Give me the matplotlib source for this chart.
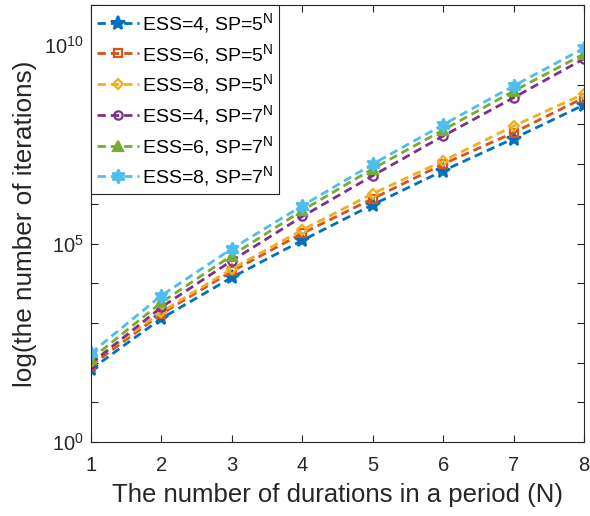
import numpy as np
import matplotlib
matplotlib.use("Agg")
from matplotlib import pyplot as plt
from matplotlib.ticker import FixedLocator, FixedFormatter, NullLocator

plt.rcParams["font.family"] = ["Liberation Sans", "DejaVu Sans"]
plt.rcParams["mathtext.default"] = "regular"

durations = [1, 2, 3, 4, 5, 6, 7, 8]

ess4_sp5 = [68, 1.3e3, 1.4e4, 1.2e5, 9.5e5, 6.8e6, 4.4e7, 3.1e8]
ess6_sp5 = [85, 1.7e3, 2.0e4, 1.8e5, 1.35e6, 1.0e7, 6.2e7, 4.7e8]
ess8_sp5 = [102, 1.9e3, 2.3e4, 2.2e5, 1.8e6, 1.2e7, 9.1e7, 5.9e8]
ess4_sp7 = [95, 2.5e3, 3.7e4, 4.8e5, 5.1e6, 5.1e7, 4.7e8, 4.5e9]
ess6_sp7 = [123, 3.3e3, 5.0e4, 6.8e5, 7.6e6, 7.2e7, 6.9e8, 5.9e9]
ess8_sp7 = [174, 4.9e3, 7.4e4, 8.9e5, 1.0e7, 9.8e7, 9.3e8, 8.3e9]

labels = ["ESS=4, SP=5$^N$", "ESS=6, SP=5$^N$", "ESS=8, SP=5$^N$",
          "ESS=4, SP=7$^N$", "ESS=6, SP=7$^N$", "ESS=8, SP=7$^N$"]
series = [ess4_sp5, ess6_sp5, ess8_sp5, ess4_sp7, ess6_sp7, ess8_sp7]
colors = ["#0072BD", "#D95319", "#EDB120", "#7E2F8E", "#77AC30", "#4DBEEE"]
# (marker, size, filled)
markers = [("*", 10, True), ("s", 5.5, False), ("D", 5, False),
           ("o", 6, False), ("^", 7.5, True), ((6, 1, 0), 10, True)]

fig = plt.figure(figsize=(5.9, 5.16), dpi=100)
ax = fig.add_axes([0.154, 0.143, 0.836, 0.847])

for vals, lab, c, (m, ms, filled) in zip(series, labels, colors, markers):
    ax.plot(durations, vals, linestyle=(0, (3.0, 1.8)), color=c, linewidth=2,
            marker=m, markersize=ms, markeredgewidth=1.6,
            markerfacecolor=c if filled else "none", markeredgecolor=c,
            label=lab)

ax.set_yscale("log")
ax.set_xlim(1, 8)
ax.set_ylim(1, 1e11)
ax.set_xticks(durations)
ax.yaxis.set_major_locator(FixedLocator([10.0 ** k for k in range(12)]))
ax.yaxis.set_major_formatter(FixedFormatter(
    ["$10^{%d}$" % k if k % 5 == 0 else "" for k in range(12)]))
ax.yaxis.set_minor_locator(NullLocator())
ax.tick_params(axis="x", labelsize=14.5, pad=10)
ax.tick_params(axis="y", labelsize=14.5, pad=5)
ax.tick_params(direction="in", top=True, right=True,
               length=5, width=0.8, color="#262626", labelcolor="#262626")
for sp in ax.spines.values():
    sp.set_linewidth(0.8)
    sp.set_color("#262626")

ax.set_xlabel("The number of durations in a period (N)", fontsize=18.5,
              color="#262626", labelpad=6)
ax.set_ylabel("log(the number of iterations)", fontsize=18.8,
              color="#262626", labelpad=5)

leg = ax.legend(loc="upper left", fontsize=14, handlelength=2.2,
                handletextpad=0.15, borderpad=0.3, labelspacing=0.35,
                borderaxespad=0, fancybox=False, framealpha=1,
                edgecolor="#262626")
leg.get_frame().set_linewidth(0.8)

fig.savefig("out.png", dpi=100)
